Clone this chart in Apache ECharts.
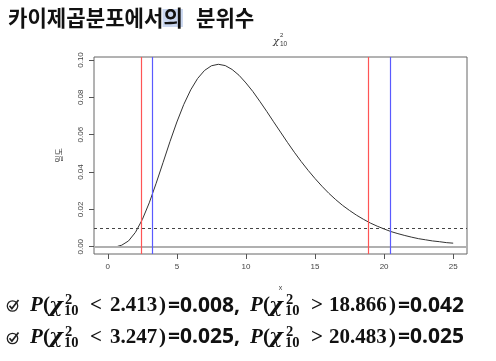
<!DOCTYPE html>
<html><head><meta charset="utf-8">
<script src="https://cdn.jsdelivr.net/npm/echarts@6/dist/echarts.min.js"></script>
<style>html,body{margin:0;padding:0;background:#fff}#c{width:496px;height:361px}</style>
</head><body><div id="c"></div>
<script>
// ---- data ----
const curveX = [0.7,1,1.5,2,2.5,3,3.5,4,4.5,5,5.5,6,6.5,7,7.5,8,8.5,9,9.5,10,10.5,11,11.5,12,12.5,13,13.5,14,14.5,15,15.5,16,16.5,17,17.5,18,18.5,19,19.5,20,20.5,21,21.5,22,22.5,23,23.5,24,24.5,25];
const curveY = [0.0002,0.0008,0.0031,0.0077,0.0146,0.0235,0.0340,0.0451,0.0563,0.0668,0.0762,0.0840,0.0901,0.0944,0.0969,0.0977,0.0970,0.0949,0.0918,0.0877,0.0831,0.0779,0.0725,0.0669,0.0614,0.0559,0.0506,0.0456,0.0409,0.0365,0.0324,0.0286,0.0252,0.0221,0.0194,0.0169,0.0147,0.0127,0.0110,0.0095,0.0081,0.0070,0.0060,0.0051,0.0043,0.0037,0.0031,0.0027,0.0022,0.0019];
const redQuantiles = [2.413, 18.866];
const blueQuantiles = [3.247, 20.483];
const cutoffDensity = 0.0132;
const xTicks = [0,5,10,15,20,25];
const yTicks = [0,0.02,0.04,0.06,0.08,0.10];
const headingA = '카이제곱분포에서의';
const headingB = '분위수';
const line1 = {lt:'2.413', lp:'0.008', gt:'18.866', gp:'0.042'};
const line2 = {lt:'3.247', lp:'0.025', gt:'20.483', gp:'0.025'};

const SERIF = '"Liberation Serif","DejaVu Serif",serif';
const DSERIF = '"DejaVu Serif",serif';
const SANS = '"Noto Sans","Liberation Sans",sans-serif';
const KFONT = '"Noto Sans CJK KR",sans-serif';

const cv = document.createElement('canvas').getContext('2d');
function mw(text, font){ cv.font = font; return cv.measureText(text).width; }

function buildLine(d, base){
  const S = 21, N = 21, sub = 14.5;
  const serifMid = base - 0.305*S;
  const sansMid = base - 0.285*N;
  const chunks = [
    {t:'P', x:30, f:'italic bold '+S+'px '+SERIF},
    {t:'(', x:43, f:'bold '+S+'px '+SERIF},
    {t:'χ', x:49, f:'italic bold 21px '+DSERIF, y:base-0.27*21},
    {t:'2', x:65, f:'bold '+sub+'px '+SERIF, y:base-11.5},
    {t:'10', x:64, f:'bold '+sub+'px '+SERIF, y:base-0.5},
    {t:'<', x:90, f:'bold '+S+'px '+SERIF},
    {t:d.lt, x:110, f:'bold '+S+'px '+SERIF},
    {t:')', x:159, f:'bold '+S+'px '+SERIF},
    {t:'='+d.lp+',', x:168, f:'bold '+N+'px '+SANS, sans:true},
    {t:'P', x:250, f:'italic bold '+S+'px '+SERIF},
    {t:'(', x:263, f:'bold '+S+'px '+SERIF},
    {t:'χ', x:269, f:'italic bold 21px '+DSERIF, y:base-0.27*21},
    {t:'2', x:286, f:'bold '+sub+'px '+SERIF, y:base-11.5},
    {t:'10', x:285, f:'bold '+sub+'px '+SERIF, y:base-0.5},
    {t:'>', x:311, f:'bold '+S+'px '+SERIF},
    {t:d.gt, x:329, f:'bold '+S+'px '+SERIF},
    {t:')', x:389, f:'bold '+S+'px '+SERIF},
    {t:'='+d.gp, x:398, f:'bold '+N+'px '+SANS, sans:true}
  ];
  return chunks.map(c=>({type:'text', x:c.x, y:(c.y!=null?c.y:(c.sans?sansMid:serifMid)),
    style:{text:c.t, font:c.f, fill:'#111', verticalAlign:'middle', align:'left'}}));
}
function checkIcon(cx, cy){
  return [
    {type:'circle', shape:{cx:cx, cy:cy, r:5.2}, style:{fill:'none', stroke:'#222', lineWidth:1.3}},
    {type:'polyline', shape:{points:[[cx-3,cy-0.3],[cx-0.6,cy+2.6],[cx+6,cy-6]]}, style:{fill:'none', stroke:'#222', lineWidth:1.7}}
  ];
}

const hx = 8;
const hsize = 20 * 175 / mw(headingA, 'bold 20px '+KFONT);
const hfont = 'bold '+hsize+'px '+KFONT;
const hlX = hx + mw(headingA.slice(0, headingA.length-1), hfont);
const hlW = mw('의', hfont);

const graphics = [
  {type:'rect', shape:{x:hlX-1, y:9, width:hlW+1, height:18}, style:{fill:'#c9d6ef'}},
  {type:'text', x:hx, y:18, style:{text:headingA, font:hfont, fill:'#111', verticalAlign:'middle'}},
  {type:'text', x:196, y:18, style:{text:headingB, font:hfont, fill:'#111', verticalAlign:'middle'}},
  {type:'text', x:276, y:41, style:{text:'χ', font:'italic 10px '+DSERIF, fill:'#333', align:'center', verticalAlign:'middle'}},
  {type:'text', x:280, y:35.5, style:{text:'2', font:'6px "Liberation Sans",sans-serif', fill:'#333', verticalAlign:'middle'}},
  {type:'text', x:280, y:44, style:{text:'10', font:'6.5px "Liberation Sans",sans-serif', fill:'#333', verticalAlign:'middle'}}
].concat(checkIcon(12.5, 306), checkIcon(12.5, 338.5),
  buildLine(line1, 312), buildLine(line2, 343.5));

const markData = [
  {yAxis:0, lineStyle:{color:'#b0b0b0', width:2, type:'solid'}},
  {yAxis:cutoffDensity, lineStyle:{color:'#444', width:1, type:[3,3]}}
];
redQuantiles.forEach(v=>markData.push({xAxis:v, lineStyle:{color:'#ff5555', width:1.2, type:'solid'}}));
blueQuantiles.forEach(v=>markData.push({xAxis:v, lineStyle:{color:'#5a5aff', width:1.2, type:'solid'}}));

const chart = echarts.init(document.getElementById('c'), null, {renderer:'canvas'});
chart.setOption({
  animation:false,
  backgroundColor:'#fff',
  grid:{left:94, top:57, width:373, height:197, show:true, borderColor:'#666', borderWidth:1, backgroundColor:'transparent'},
  xAxis:{type:'value', min:-1, max:26, name:'x', nameLocation:'middle', nameGap:31,
    nameTextStyle:{fontSize:7, color:'#444', fontFamily:'"Liberation Sans",sans-serif'},
    axisLine:{show:false, onZero:false}, splitLine:{show:false},
    axisTick:{show:true, customValues:xTicks, length:5, lineStyle:{color:'#555'}},
    axisLabel:{customValues:xTicks, fontSize:8, color:'#444', margin:9, fontFamily:'"Liberation Sans",sans-serif'}},
  yAxis:{type:'value', min:-0.0039, max:0.1016, name:'밀도', nameLocation:'middle', nameGap:31, nameRotate:90,
    nameTextStyle:{fontSize:8, color:'#444', fontFamily:KFONT},
    axisLine:{show:false, onZero:false}, splitLine:{show:false},
    axisTick:{show:true, customValues:yTicks, length:5, lineStyle:{color:'#555'}},
    axisLabel:{customValues:yTicks, fontSize:8, color:'#444', margin:9, rotate:90, fontFamily:'"Liberation Sans",sans-serif',
      formatter:v=>v.toFixed(2)}},
  series:[{type:'line', data:curveX.map((x,i)=>[x,curveY[i]]), showSymbol:false, silent:true,
    lineStyle:{color:'#333', width:1},
    markLine:{symbol:'none', silent:true, label:{show:false}, animation:false, data:markData}}],
  graphic:graphics
});
</script></body></html>
